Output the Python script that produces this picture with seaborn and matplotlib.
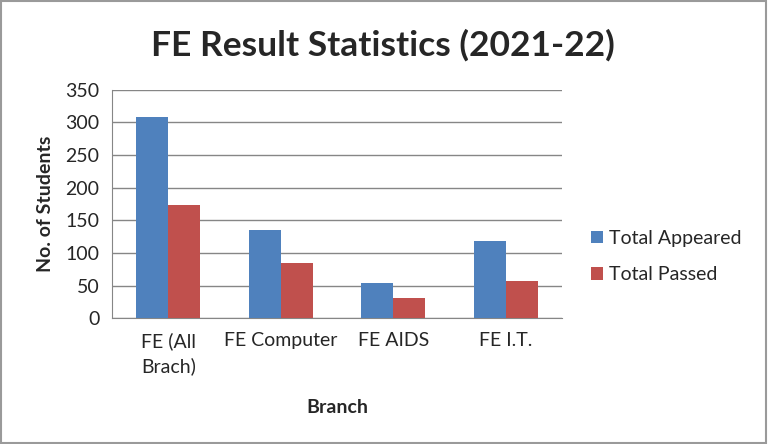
import matplotlib
matplotlib.use("Agg")
import matplotlib.pyplot as plt
import seaborn as sns
import pandas as pd
from matplotlib.patches import Rectangle

categories = ["FE (All\nBrach)", "FE Computer", "FE AIDS", "FE I.T."]
total_appeared = [308, 135, 54, 118]
total_passed = [174, 85, 31, 58]
series_names = ["Total Appeared", "Total Passed"]
y_ticks = [0, 50, 100, 150, 200, 250, 300, 350]

df = pd.DataFrame({
    "Branch": categories * 2,
    "Value": total_appeared + total_passed,
    "Series": [series_names[0]] * len(categories) + [series_names[1]] * len(categories),
})

sns.set_style("white")
plt.rcParams["font.family"] = ["Lato", "DejaVu Sans"]

fig = plt.figure(figsize=(7.68, 4.44), dpi=100)
ax = fig.add_axes([0.146, 0.2827, 0.586, 0.5157])

sns.barplot(data=df, x="Branch", y="Value", hue="Series", order=categories,
            hue_order=series_names, palette=["#4F81BD", "#C0504D"],
            width=0.57, saturation=1, ax=ax, legend=True, zorder=3,
            linewidth=0, edgecolor="none")

ax.set_ylim(0, 350)
ax.set_xlim(-0.5, len(categories) - 0.5)
ax.set_yticks(y_ticks)
ax.set_yticklabels([str(t) for t in y_ticks], fontsize=14)
ax.tick_params(axis="y", length=5, width=1, color="#868686", direction="out", pad=4)
ax.tick_params(axis="x", length=0, pad=10, labelsize=14)
for lab in ax.get_xticklabels():
    lab.set_verticalalignment("top")
    lab.set_horizontalalignment("center")
    lab.set_multialignment("left")
    lab.set_linespacing(1.45)

ax.yaxis.grid(True, color="#868686", linewidth=1, zorder=0)
ax.set_axisbelow(True)
for side in ["top", "right"]:
    ax.spines[side].set_visible(False)
ax.spines["left"].set_color("#868686")
ax.spines["bottom"].set_color("#868686")

ax.set_xlabel("Branch", fontsize=14, fontweight="bold", labelpad=17)
ax.set_ylabel("No. of Students", fontsize=14, fontweight="bold", labelpad=8)

fig.suptitle("FE Result Statistics (2021-22)", x=0.498, y=0.935, fontsize=25.5,
             fontweight="bold")

leg = ax.legend(loc="center left", bbox_to_anchor=(1.025, 0.27), frameon=False,
                fontsize=14, handlelength=0.6, handleheight=0.6,
                handletextpad=0.35, labelspacing=1.0)

fig.patches.append(Rectangle((0.0015, 0.002), 0.996, 0.995, transform=fig.transFigure,
                             fill=False, edgecolor="#9a9a9a", linewidth=1.5))

fig.savefig("out.png", dpi=100)
